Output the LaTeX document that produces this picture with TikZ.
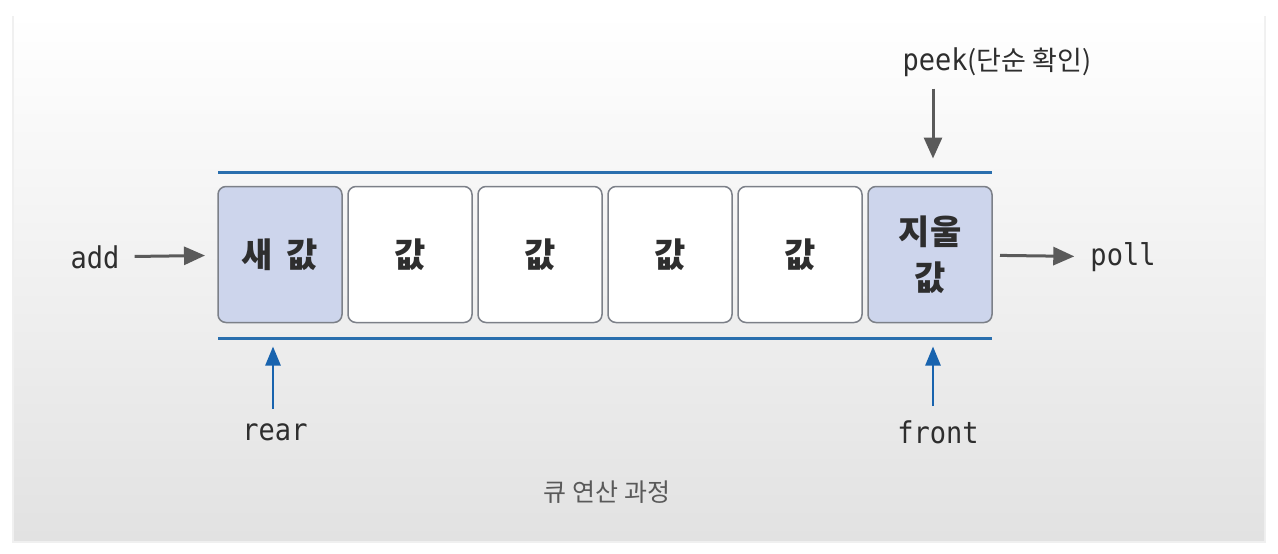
\documentclass[tikz,border=0pt]{standalone}
\usepackage{fontspec}
\setmonofont[FakeStretch=0.9]{DejaVu Sans Mono}
\newfontfamily\krfont{Noto Sans CJK KR}
\usepackage{tikz}
\usetikzlibrary{arrows.meta,positioning}
\usepackage{xcolor}
\definecolor{cellblue}{HTML}{CDD5EC}
\definecolor{cellline}{HTML}{7C8088}
\definecolor{railblue}{HTML}{2A6FAE}
\definecolor{ptrblue}{HTML}{1863AE}
\definecolor{arrowgray}{HTML}{5A5A5A}
\definecolor{inkgray}{HTML}{2E2E2E}
\definecolor{cardgray}{HTML}{E2E2E2}

\tikzset{
  cell/.style={draw=cellline, line width=1.5pt, rounded corners=8pt, fill=white,
    minimum width=124pt, minimum height=136pt, inner sep=0pt, outer sep=0pt,
    font=\krfont\bfseries\fontsize{34}{46}\selectfont, text=inkgray, align=center},
  hotcell/.style={cell, fill=cellblue},
  optext/.style={font=\ttfamily\fontsize{30}{34}\selectfont, text=inkgray, inner sep=2pt},
  rail/.style={draw=railblue, line width=3pt},
  flow/.style={draw=arrowgray, line width=3pt, -{Triangle[length=21pt,width=18pt]}},
  ptr/.style={draw=ptrblue, line width=2.5pt, -{Triangle[length=19pt,width=15pt]}},
}

\begin{document}
\begin{tikzpicture}[x=1pt, y=-1pt]
  % page and card
  \useasboundingbox (0,0) rectangle (1278,554);
  \fill[white] (0,0) rectangle (1278,554);
  \fill[black!6] (12,16) rectangle (1266,543);
  \shade[top color=white, middle color=white, bottom color=cardgray] (14,14) rectangle (1264,540);

  % queue cells
  \node[hotcell] (c1) at (280,254.5) {새\hspace{.4em}값};
  \node[cell, right=6pt of c1] (c2) {값};
  \node[cell, right=6pt of c2] (c3) {값};
  \node[cell, right=6pt of c3] (c4) {값};
  \node[cell, right=6pt of c4] (c5) {값};
  \node[hotcell, right=6pt of c5] (c6) {지울\\값};

  % rails
  \draw[rail] ([yshift=14.5pt]c1.north west) -- ([yshift=14.5pt]c6.north east);
  \draw[rail] ([yshift=-15.5pt]c1.south west) -- ([yshift=-15.5pt]c6.south east);

  % operations
  \node[optext] (add) at (95,257) {add};
  \node[optext] (poll) at (1123,257) {poll};
  \node[optext] (peek) at (997,62) {peek{\krfont\fontsize{27}{30}\selectfont(단순 확인)}};
  \node[optext] (rear) at (275,432) {rear};
  \node[optext] (front) at (938,432) {front};

  \coordinate (peektip) at ([xshift=3pt, yshift=28pt]c6.north);
  \coordinate (reartip) at ([xshift=-7pt, yshift=-24pt]c1.south);
  \coordinate (fronttip) at ([xshift=3pt, yshift=-24pt]c6.south);

  \draw[flow, shorten <=13pt, shorten >=13pt] (add) -- (c1);
  \draw[flow, shorten <=8pt, shorten >=14pt] (c6) -- (poll);
  \draw[flow, shorten <=10pt] (peektip |- peek.south) -- (peektip);
  \draw[ptr, shorten <=12pt] (reartip |- rear.north) -- (reartip);
  \draw[ptr, shorten <=12pt] (fronttip |- front.north) -- (fronttip);

  % caption
  \node[font=\krfont\fontsize{25}{28}\selectfont, text=black!65] (caption) at (607,492) {큐 연산 과정};
\end{tikzpicture}
\end{document}
